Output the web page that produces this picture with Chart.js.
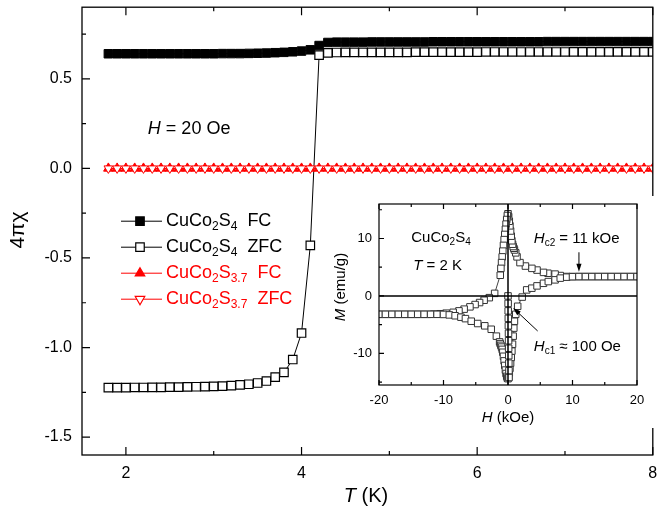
<!DOCTYPE html>
<html>
<head>
<meta charset="utf-8">
<script src="https://cdn.jsdelivr.net/npm/chart.js@4.4.1/dist/chart.umd.min.js"></script>
<style>
  body { margin: 0; background: #fff; }
  #wrap { position: relative; width: 660px; height: 513px; }
  #main { position: absolute; left: 0; top: 0; }
  #inset { position: absolute; left: 332px; top: 196px; background: #fff; }
</style>
</head>
<body>
<div id="wrap">
  <canvas id="main" width="660" height="513"></canvas>
  <canvas id="inset" width="322" height="232"></canvas>
</div>
<script>
// ---- main panel: 4*pi*chi vs T ----
const temps = [1.8,1.9,2.0,2.1,2.2,2.3,2.4,2.5,2.6,2.7,2.8,2.9,3.0,3.1,3.2,3.3,3.4,3.5,3.6,3.7,3.8,3.9,4.0,4.1,4.2,4.3,4.4,4.5,4.6,4.7,4.8,4.9,5.0,5.1,5.2,5.3,5.4,5.5,5.6,5.7,5.8,5.9,6.0,6.1,6.2,6.3,6.4,6.5,6.6,6.7,6.8,6.9,7.0,7.1,7.2,7.3,7.4,7.5,7.6,7.7,7.8,7.9,8.0];
const fcS4 = [0.640,0.640,0.640,0.640,0.640,0.640,0.640,0.640,0.640,0.640,0.640,0.640,0.640,0.641,0.641,0.641,
  0.642,0.643,0.644,0.646,0.648,0.651,0.655,0.662,0.686,0.703,0.705,
  0.705,0.705,0.705,0.706,0.706,0.706,0.706,0.706,0.706,0.706,0.707,0.707,0.707,0.707,0.707,0.707,0.707,0.707,
  0.707,0.707,0.707,0.707,0.707,0.708,0.708,0.708,0.708,0.708,0.708,0.708,0.708,0.708,0.708,0.708,0.708,0.708];
const zfcS4 = [-1.224,-1.224,-1.224,-1.223,-1.223,-1.222,-1.222,-1.221,-1.221,-1.220,-1.219,-1.218,-1.217,-1.215,-1.213,-1.209,
  -1.205,-1.198,-1.187,-1.165,-1.139,-1.067,-0.919,-0.430,0.632,0.645,0.647,
  0.648,0.648,0.648,0.648,0.648,0.648,0.648,0.648,0.649,0.649,0.649,0.649,0.649,0.649,0.649,0.649,
  0.650,0.650,0.650,0.650,0.650,0.650,0.650,0.650,0.650,0.650,0.651,0.651,0.651,0.651,0.651,0.651,0.651,0.651,0.651,0.651];
const fcS37 = [0,0,0,0,0,0,0,0,0,0,0,0,0,0,0,0,0,0,0,0,0,0,0,0,0,0,0,0,0,0,0,0,0,0,0,0,0,0,0,0,0,0,0,0,0,0,0,0,0,0,0,0,0,0,0,0,0,0,0,0,0,0,0];
const zfcS37 = [0,0,0,0,0,0,0,0,0,0,0,0,0,0,0,0,0,0,0,0,0,0,0,0,0,0,0,0,0,0,0,0,0,0,0,0,0,0,0,0,0,0,0,0,0,0,0,0,0,0,0,0,0,0,0,0,0,0,0,0,0,0,0];
const xTicks = [2, 4, 6, 8];
const xMinor = [3, 5, 7];
const yTicks = [-1.5, -1.0, -0.5, 0, 0.5];
const yMinor = [-1.25, -0.75, -0.25, 0.25, 0.75];

// ---- inset: M vs H at 2 K ----
const hDown = [20,19,18,17,16,15,14,13,12,11,10,9.1,8.1,7.3,6.2,5.5,4.5,3.7,2.7,1.86,
  1.4,1.2,1.0,0.9,0.8,0.7,0.6,0.5,0.4,0.3,0.2,0.1,0,
  -0.1,-0.2,-0.3,-0.4,-0.5,-0.6,-0.7,-0.8,-0.9,-1.0,-1.1,-1.2,
  -2.07,-2.9,-3.7,-4.4,-5.1,-5.9,-6.8,-7.6,-8.5,-9.6,
  -10.5,-11.5,-12.5,-13.5,-14.5,-15.5,-16.5,-17.5,-18.5,-19.5];
const mDown = [3.37,3.37,3.37,3.37,3.37,3.37,3.37,3.37,3.37,3.37,3.37,3.38,3.55,3.8,3.95,4.1,4.5,4.8,5.2,5.8,
  6.8,7.5,8.0,8.3,8.6,9.0,9.6,10.4,11.3,12.2,13.0,13.8,14.3,
  14.0,13.3,12.5,11.6,10.7,9.8,8.8,7.8,6.8,5.8,4.8,3.6,
  0.45,-0.3,-0.75,-1.15,-1.5,-1.9,-2.3,-2.6,-2.85,-3.0,
  -3.1,-3.15,-3.2,-3.2,-3.2,-3.2,-3.2,-3.2,-3.2,-3.2];
const hUp = [-20,-19,-18,-17,-16,-15,-14,-13,-12,-11,-10,-9.1,-8.2,-7.3,-6.6,-5.7,-4.7,-3.6,-2.6,-1.8,
  -1.3,-1.2,-1.1,-1.0,-0.9,-0.8,-0.7,-0.6,-0.5,-0.4,-0.3,-0.2,-0.1,0,
  0.1,0.2,0.3,0.4,0.5,0.6,0.7,0.8,0.9,1.0,1.2,1.5,
  2.2,2.9,3.7,4.5,5.5,6.25,7.3,8.1,9.1,10,
  11,12,13,14,15,16,17,18,19,20];
const mUp = [-3.2,-3.2,-3.2,-3.2,-3.2,-3.2,-3.2,-3.2,-3.2,-3.2,-3.22,-3.3,-3.45,-3.7,-3.95,-4.4,-4.8,-5.2,-5.8,-7.0,
  -8.0,-8.3,-8.6,-8.9,-9.3,-9.8,-10.5,-11.3,-12.1,-12.9,-13.5,-14.0,-14.3,-14.4,
  -14.1,-13.4,-12.6,-11.7,-10.7,-9.6,-8.4,-7.0,-5.6,-4.4,-3.2,-1.8,
  -0.2,1.05,1.35,1.75,2.2,2.5,2.8,3.1,3.27,3.35,
  3.37,3.37,3.37,3.37,3.37,3.37,3.37,3.37,3.37,3.37];
const hVirgin = [0,0.02,0.03,0.05,0.06,0.08,0.09,0.1,0.12,0.13,0.15,0.16];
const mVirgin = [0,-1.3,-2.6,-3.9,-5.2,-6.5,-7.8,-9.1,-10.4,-11.7,-13.0,-14.2];
const hTicks = [-20, -10, 0, 10, 20];
const hMinor = [-15, -5, 5, 15];
const mTicks = [-10, 0, 10];
const mMinor = [-15, -5, 5, 15];

const FONT = '"Liberation Sans", Arial, sans-serif';
Chart.defaults.font.family = FONT;
Chart.defaults.color = '#000';

const pts = (xs, ys) => xs.map((x, i) => ({ x: x, y: ys[i] }));

// text with italic / subscript pieces: [text, 'i' | 's' | '']
function rich(ctx, x, y, parts, size, color, align) {
  let w = 0;
  const items = parts.map(([t, s]) => {
    const fs = s === 's' ? Math.round(size * 0.68) : size;
    const f = (s === 'i' ? 'italic ' : '') + fs + 'px ' + FONT;
    ctx.font = f;
    const tw = ctx.measureText(t).width;
    w += tw;
    return { t, f, tw, dy: s === 's' ? size * 0.3 : 0 };
  });
  let cx = align === 'center' ? x - w / 2 : x;
  ctx.fillStyle = color;
  ctx.textAlign = 'left';
  ctx.textBaseline = 'middle';
  items.forEach(p => { ctx.font = p.f; ctx.fillText(p.t, cx, y + p.dy); cx += p.tw; });
}

function inTicks(ctx, chart, xs, ys, len) {
  const { left, right, top, bottom } = chart.chartArea;
  const sx = chart.scales.x, sy = chart.scales.y;
  ctx.beginPath();
  xs.forEach(v => {
    const p = sx.getPixelForValue(v);
    ctx.moveTo(p, bottom); ctx.lineTo(p, bottom - len);
    ctx.moveTo(p, top); ctx.lineTo(p, top + len);
  });
  ys.forEach(v => {
    const p = sy.getPixelForValue(v);
    ctx.moveTo(left, p); ctx.lineTo(left + len, p);
  });
  ctx.stroke();
}

function marker(ctx, style, x, y, r, fill, stroke) {
  ctx.beginPath();
  if (style === 'rect') {
    const s = r * Math.SQRT1_2;
    ctx.rect(x - s, y - s, 2 * s, 2 * s);
  } else {
    const d = style === 'down' ? -1 : 1;
    ctx.moveTo(x, y - d * r);
    ctx.lineTo(x + r * 0.866, y + d * r * 0.5);
    ctx.lineTo(x - r * 0.866, y + d * r * 0.5);
    ctx.closePath();
  }
  ctx.fillStyle = fill; ctx.fill();
  ctx.strokeStyle = stroke; ctx.lineWidth = 1.2; ctx.stroke();
}

function arrow(ctx, x1, y1, x2, y2) {
  const a = Math.atan2(y2 - y1, x2 - x1), L = 8, W = 2.6;
  ctx.beginPath();
  ctx.moveTo(x1, y1);
  ctx.lineTo(x2 - Math.cos(a) * L * 0.7, y2 - Math.sin(a) * L * 0.7);
  ctx.stroke();
  ctx.beginPath();
  ctx.moveTo(x2, y2);
  ctx.lineTo(x2 - L * Math.cos(a) + W * Math.sin(a), y2 - L * Math.sin(a) - W * Math.cos(a));
  ctx.lineTo(x2 - L * Math.cos(a) - W * Math.sin(a), y2 - L * Math.sin(a) + W * Math.cos(a));
  ctx.closePath();
  ctx.fill();
}

const legendItems = [
  { parts: [['CuCo', ''], ['2', 's'], ['S', ''], ['4', 's'], ['  FC', '']], color: '#000', style: 'rect', fill: '#000' },
  { parts: [['CuCo', ''], ['2', 's'], ['S', ''], ['4', 's'], ['  ZFC', '']], color: '#000', style: 'rect', fill: '#fff' },
  { parts: [['CuCo', ''], ['2', 's'], ['S', ''], ['3.7', 's'], ['  FC', '']], color: '#f00', style: 'up', fill: '#f00' },
  { parts: [['CuCo', ''], ['2', 's'], ['S', ''], ['3.7', 's'], ['  ZFC', '']], color: '#f00', style: 'down', fill: '#fff' }
];

const mainDecor = {
  id: 'mainDecor',
  afterDraw(chart) {
    const ctx = chart.ctx, a = chart.chartArea;
    ctx.save();
    ctx.strokeStyle = '#000';
    ctx.lineWidth = 1.3;
    ctx.strokeRect(a.left, a.top, a.right - a.left, a.bottom - a.top);
    ctx.lineWidth = 1.2;
    inTicks(ctx, chart, xTicks, yTicks, 8);
    inTicks(ctx, chart, xMinor, yMinor, 4);

    // axis titles
    rich(ctx, 366, 496, [['T', 'i'], [' (K)', '']], 20, '#000', 'center');
    ctx.save();
    ctx.translate(18, 230);
    ctx.rotate(-Math.PI / 2);
    rich(ctx, 0, 0, [['4\u03c0\u03c7', '']], 21, '#000', 'center');
    ctx.restore();

    // field label
    const sx = chart.scales.x, sy = chart.scales.y;
    rich(ctx, sx.getPixelForValue(2.25), sy.getPixelForValue(0.222),
      [['H', 'i'], [' = 20 Oe', '']], 18, '#000', 'left');

    // legend
    legendItems.forEach((it, i) => {
      const y = a.top + 214 + i * 26;
      ctx.strokeStyle = it.color;
      ctx.lineWidth = 1;
      ctx.beginPath();
      ctx.moveTo(a.left + 39, y); ctx.lineTo(a.left + 80, y);
      ctx.stroke();
      marker(ctx, it.style, a.left + 58, y, it.style === 'rect' ? 6 : 5.5, it.fill, it.color);
      rich(ctx, a.left + 84, y, it.parts, 18, it.color, 'left');
    });
    ctx.restore();
  }
};

new Chart(document.getElementById('main'), {
  type: 'scatter',
  data: {
    datasets: [
      { data: pts(temps, zfcS37), showLine: true, borderColor: '#f00', borderWidth: 1,
        pointStyle: 'triangle', rotation: 180, pointRadius: 5, pointBackgroundColor: '#fff',
        pointBorderColor: '#f00', pointBorderWidth: 1, order: 0 },
      { data: pts(temps, fcS37), showLine: true, borderColor: '#f00', borderWidth: 1,
        pointStyle: 'triangle', pointRadius: 5.5, pointBackgroundColor: '#f00',
        pointBorderColor: '#f00', pointBorderWidth: 1, order: 1 },
      { data: pts(temps, zfcS4), showLine: true, borderColor: '#000', borderWidth: 1,
        pointStyle: 'rect', pointRadius: 6, pointBackgroundColor: '#fff',
        pointBorderColor: '#000', pointBorderWidth: 1.2, order: 2 },
      { data: pts(temps, fcS4), showLine: true, borderColor: '#000', borderWidth: 1,
        pointStyle: 'rect', pointRadius: 6, pointBackgroundColor: '#000',
        pointBorderColor: '#000', pointBorderWidth: 1, order: 3 }
    ]
  },
  options: {
    responsive: false,
    animation: false,
    events: [],
    layout: { padding: { left: 0, right: 3, top: 7, bottom: 0 } },
    plugins: { legend: { display: false }, tooltip: { enabled: false } },
    scales: {
      x: {
        type: 'linear', min: 1.5, max: 8,
        grid: { display: false, drawTicks: false }, border: { display: false },
        afterBuildTicks: s => { s.ticks = xTicks.map(v => ({ value: v })); },
        afterFit: s => { s.height = 58; s.paddingLeft = 0; s.paddingRight = 0; },
        ticks: { padding: 9, font: { size: 16 }, maxRotation: 0, autoSkip: false, callback: v => String(v) }
      },
      y: {
        type: 'linear', min: -1.6, max: 0.9,
        grid: { display: false, drawTicks: false }, border: { display: false },
        afterBuildTicks: s => { s.ticks = yTicks.map(v => ({ value: v })); },
        afterFit: s => { s.width = 82; s.paddingTop = 0; s.paddingBottom = 0; },
        ticks: { padding: 10, font: { size: 16 }, autoSkip: false, callback: v => v.toFixed(1) }
      }
    }
  },
  plugins: [mainDecor]
});

const insetDecor = {
  id: 'insetDecor',
  afterDatasetsDraw(chart) {
    const ctx = chart.ctx, a = chart.chartArea;
    const sx = chart.scales.x, sy = chart.scales.y;
    ctx.save();
    ctx.strokeStyle = '#000';
    ctx.lineWidth = 1.5;
    ctx.beginPath();
    ctx.moveTo(a.left, sy.getPixelForValue(0)); ctx.lineTo(a.right, sy.getPixelForValue(0));
    ctx.moveTo(sx.getPixelForValue(0), a.top); ctx.lineTo(sx.getPixelForValue(0), a.bottom);
    ctx.stroke();
    ctx.restore();
  },
  afterDraw(chart) {
    const ctx = chart.ctx, a = chart.chartArea;
    const sx = chart.scales.x, sy = chart.scales.y;
    const X = v => sx.getPixelForValue(v), Y = v => sy.getPixelForValue(v);
    ctx.save();
    ctx.strokeStyle = '#000';
    ctx.fillStyle = '#000';
    ctx.lineWidth = 1.2;
    ctx.strokeRect(a.left, a.top, a.right - a.left, a.bottom - a.top);
    inTicks(ctx, chart, hTicks, mTicks, 5);
    inTicks(ctx, chart, hMinor, mMinor, 3);

    rich(ctx, (a.left + a.right) / 2, 222, [['H', 'i'], [' (kOe)', '']], 15, '#000', 'center');
    ctx.save();
    ctx.translate(9, 91);
    ctx.rotate(-Math.PI / 2);
    rich(ctx, 0, 0, [['M', 'i'], [' (emu/g)', '']], 15, '#000', 'center');
    ctx.restore();

    rich(ctx, X(-15), Y(10.1), [['CuCo', ''], ['2', 's'], ['S', ''], ['4', 's']], 15, '#000', 'left');
    rich(ctx, X(-14.7), Y(5.2), [['T', 'i'], [' = 2 K', '']], 15, '#000', 'left');
    rich(ctx, X(4.0), Y(10.0), [['H', 'i'], ['c2', 's'], [' = 11 kOe', '']], 15, '#000', 'left');
    rich(ctx, X(4.0), Y(-8.9), [['H', 'i'], ['c1', 's'], [' \u2248 100 Oe', '']], 15, '#000', 'left');

    ctx.lineWidth = 1;
    arrow(ctx, X(11), Y(7.6), X(11), Y(4.2));
    arrow(ctx, X(4.6), Y(-6.1), X(0.8), Y(-2.1));
    ctx.restore();
  }
};

const loopStyle = {
  showLine: true, borderColor: '#444', borderWidth: 1,
  pointStyle: 'rect', pointRadius: 4.6, pointBackgroundColor: '#fff',
  pointBorderColor: '#333', pointBorderWidth: 1
};

new Chart(document.getElementById('inset'), {
  type: 'scatter',
  data: {
    datasets: [
      Object.assign({ data: pts(hVirgin, mVirgin) }, loopStyle),
      Object.assign({ data: pts(hUp, mUp) }, loopStyle),
      Object.assign({ data: pts(hDown, mDown) }, loopStyle)
    ]
  },
  options: {
    responsive: false,
    animation: false,
    events: [],
    layout: { padding: { left: 0, right: 17, top: 8, bottom: 0 } },
    plugins: { legend: { display: false }, tooltip: { enabled: false } },
    scales: {
      x: {
        type: 'linear', min: -20, max: 20,
        grid: { display: false, drawTicks: false }, border: { display: false },
        afterBuildTicks: s => { s.ticks = hTicks.map(v => ({ value: v })); },
        afterFit: s => { s.height = 43; s.paddingLeft = 0; s.paddingRight = 0; },
        ticks: { padding: 8, font: { size: 13 }, maxRotation: 0, autoSkip: false, callback: v => String(v) }
      },
      y: {
        type: 'linear', min: -15.5, max: 16,
        grid: { display: false, drawTicks: false }, border: { display: false },
        afterBuildTicks: s => { s.ticks = mTicks.map(v => ({ value: v })); },
        afterFit: s => { s.width = 47; s.paddingTop = 0; s.paddingBottom = 0; },
        ticks: { padding: 7, font: { size: 13 }, autoSkip: false, callback: v => String(v) }
      }
    }
  },
  plugins: [insetDecor]
});
</script>
</body>
</html>
